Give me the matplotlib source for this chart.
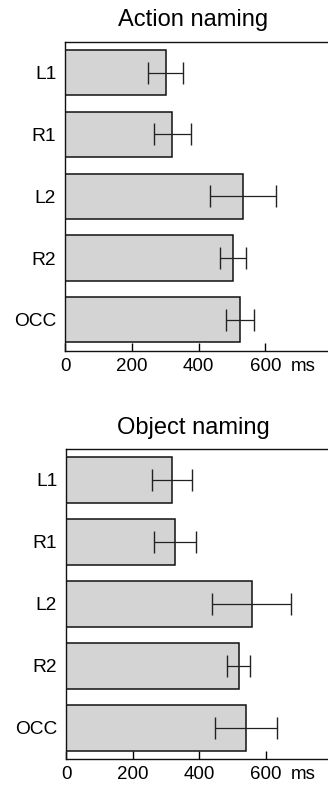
import matplotlib.pyplot as plt

# naming latencies per site (ms), with error bar half-widths
sites = ['L1', 'R1', 'L2', 'R2', 'OCC']
action_ms = [301, 321, 532, 504, 524]
action_err = [53, 55, 99, 39, 41]
object_ms = [318, 327, 558, 519, 541]
object_err = [60, 64, 120, 34, 94]
xticks = [0, 200, 400, 600]
xticklabels = ['0', '200', '400', '600']

plt.rcParams['font.family'] = ['Liberation Sans', 'DejaVu Sans']

fig = plt.figure(figsize=(3.28, 7.91), dpi=100)
ax1 = fig.add_axes([0.199, 0.5566, 0.801, 0.3907])
ax2 = fig.add_axes([0.202, 0.0405, 0.798, 0.3919])


def draw_panel(ax, vals, errs, title):
    ypos = list(range(len(sites)))
    ax.barh(ypos, vals, height=0.73, color='#d4d4d4', edgecolor='#111111',
            linewidth=1.1, zorder=2)
    ax.errorbar(vals, ypos, xerr=errs, fmt='none', ecolor='#222222',
                elinewidth=0.9, capsize=7.8, capthick=1.0, zorder=3)
    ax.set_ylim(len(sites) - 0.5, -0.5)
    ax.set_xlim(0, 788)
    ax.set_yticks(ypos)
    ax.set_yticklabels(sites, fontsize=13.8)
    ax.set_xticks(xticks)
    ax.set_xticklabels(xticklabels, fontsize=13.5)
    ax.tick_params(axis='y', length=0, pad=6.5)
    ax.tick_params(axis='x', direction='in', length=5.5, width=1.0, pad=5)
    ax.spines['right'].set_visible(False)
    for s in ['left', 'top', 'bottom']:
        ax.spines[s].set_linewidth(1.0)
        ax.spines[s].set_color('#111111')
    # unit label sits after the last tick value
    ax.annotate('ms', xy=(600, 0), xycoords=('data', 'axes fraction'),
                xytext=(18, -5), textcoords='offset points',
                ha='left', va='top', fontsize=13.5)
    ax.set_title(title, fontsize=17, x=0.486, pad=11)


draw_panel(ax1, action_ms, action_err, 'Action naming')
draw_panel(ax2, object_ms, object_err, 'Object naming')

fig.savefig('out.png', dpi=100)
